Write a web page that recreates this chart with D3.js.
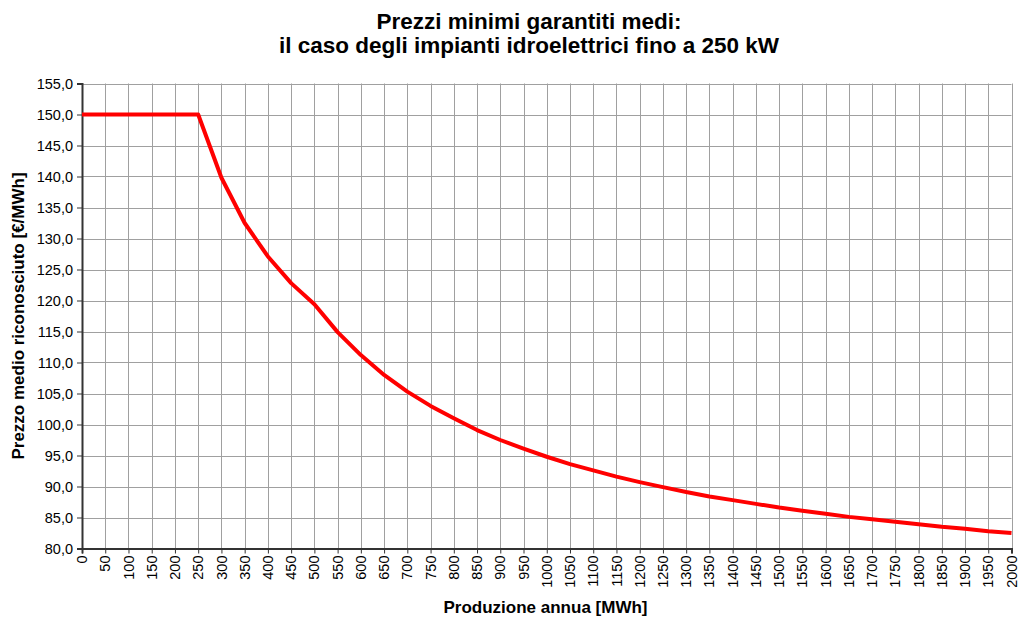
<!DOCTYPE html>
<html><head><meta charset="utf-8">
<script src="https://cdn.jsdelivr.net/npm/d3@7"></script>
<style>body{margin:0;background:#fff;} svg{display:block;}</style>
</head><body>
<svg id="c" width="1018" height="619"></svg>
<script>
const production = [0,50,100,150,200,250,300,350,400,450,500,550,600,650,700,750,800,850,900,950,1000,1050,1100,1150,1200,1250,1300,1350,1400,1450,1500,1550,1600,1650,1700,1750,1800,1850,1900,1950,2000];
const price = [150,150,150,150,150,150,139.8,132.5,127.1,122.8,119.4,114.9,111.2,108.0,105.3,103.0,101.0,99.1,97.5,96.1,94.8,93.6,92.6,91.6,90.7,89.9,89.1,88.4,87.8,87.2,86.6,86.1,85.6,85.1,84.7,84.3,83.9,83.5,83.2,82.8,82.5];
const xTicks = d3.range(0, 2001, 50);
const yTicks = d3.range(80, 155.1, 5);
const title = ["Prezzi minimi garantiti medi:", "il caso degli impianti idroelettrici fino a 250 kW"];
const xLabel = "Produzione annua [MWh]";
const yLabel = "Prezzo medio riconosciuto [€/MWh]";

const FONT = "Arial, 'Liberation Sans', sans-serif";
const svg = d3.select("#c");
const L = 82, R = 1011.5, T = 83.5, B = 548.5;
const x = d3.scaleLinear().domain([0, 2000]).range([L, R]);
const y = d3.scaleLinear().domain([80, 155]).range([B, T]);
const fmt = d => d.toFixed(1).replace(".", ",");

// gridlines
svg.append("g").selectAll("line").data(xTicks.slice(1)).join("line")
  .attr("x1", d => Math.round(x(d)) + 0.5).attr("x2", d => Math.round(x(d)) + 0.5)
  .attr("y1", T).attr("y2", B).attr("stroke", "#a0a0a0").attr("stroke-width", 1);
svg.append("g").selectAll("line").data(yTicks.slice(1)).join("line")
  .attr("y1", d => Math.round(y(d)) + 0.5).attr("y2", d => Math.round(y(d)) + 0.5)
  .attr("x1", L).attr("x2", R).attr("stroke", "#a0a0a0").attr("stroke-width", 1);

// axes
const yAxis = d3.axisLeft(y).tickValues(yTicks).tickFormat(fmt).tickSize(5).tickPadding(4);
const gy = svg.append("g").attr("transform", `translate(${L},0)`).call(yAxis)
  .attr("font-family", FONT).attr("font-size", 14.5);
gy.select(".domain").attr("stroke", "#333").attr("stroke-width", 2);
gy.selectAll(".tick line").attr("stroke", "#333");
gy.selectAll("text").attr("fill", "#000");

const xAxis = d3.axisBottom(x).tickValues(xTicks).tickFormat(d => String(d)).tickSize(5);
const gx = svg.append("g").attr("transform", `translate(0,${B})`).call(xAxis)
  .attr("font-family", FONT).attr("font-size", 14.5);
gx.select(".domain").attr("stroke", "#333").attr("stroke-width", 2);
gx.selectAll(".tick line").attr("stroke", "#333");
gx.selectAll("text").attr("fill", "#000")
  .attr("transform", "rotate(-90)").attr("text-anchor", "end")
  .attr("x", -7).attr("y", -0.5).attr("dy", "0.35em");

// line
const line = d3.line().x((d, i) => x(production[i])).y(d => y(d));
svg.append("path").datum(price).attr("d", line)
  .attr("fill", "none").attr("stroke", "#ff0000").attr("stroke-width", 4)
  .attr("stroke-linejoin", "round");

// titles
function label(tx, ty, size, str, rot) {
  const t = svg.append("text")
    .attr("font-family", FONT).attr("font-weight", "bold").attr("font-size", size)
    .attr("text-anchor", "middle").attr("fill", "#000").text(str);
  if (rot) t.attr("transform", `translate(${tx},${ty}) rotate(-90)`);
  else t.attr("x", tx).attr("y", ty);
}
label(529, 29, 22.5, title[0]);
label(529, 53, 22.5, title[1]);
label(545.5, 613, 17, xLabel);
label(23.5, 316, 17, yLabel, true);
</script>
</body></html>
